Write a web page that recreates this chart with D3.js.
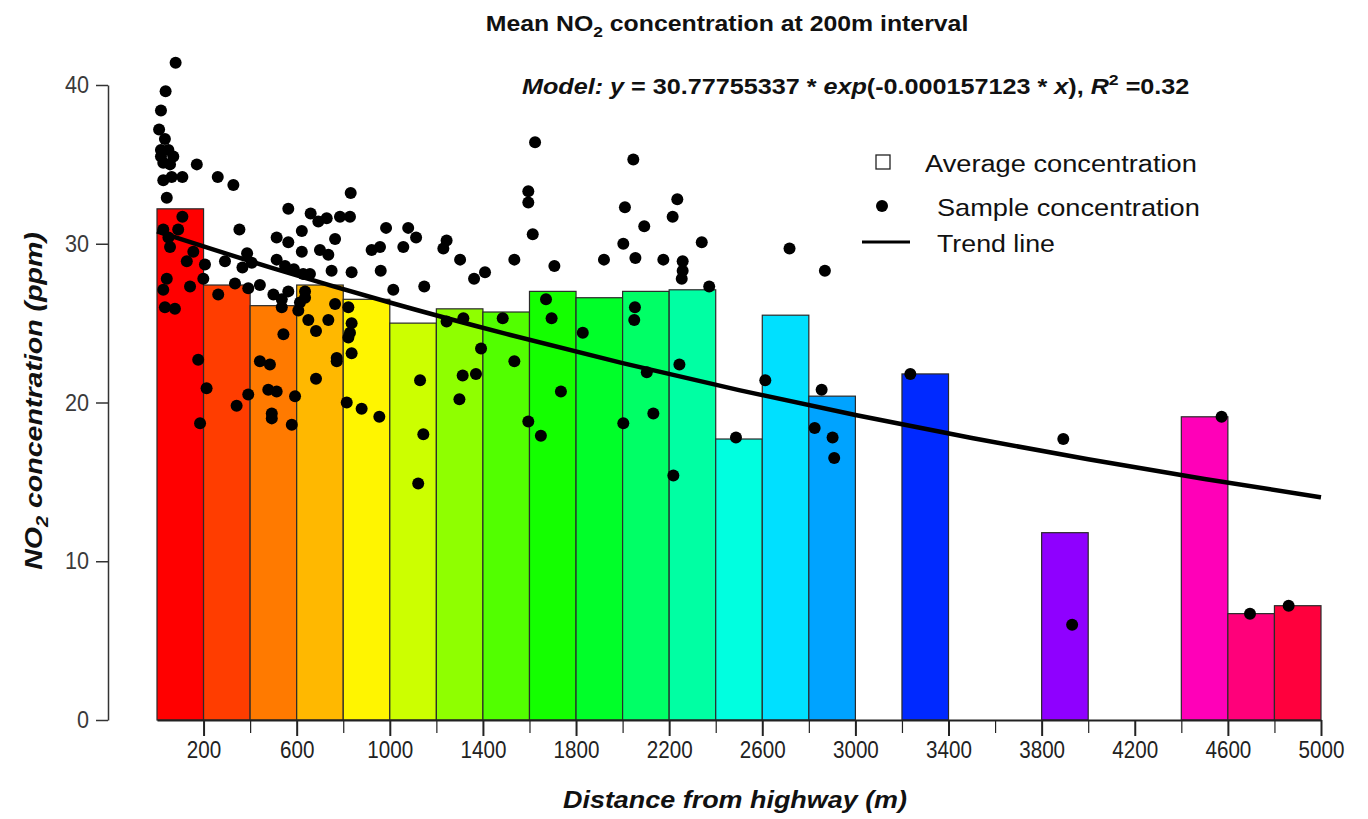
<!DOCTYPE html>
<html>
<head>
<meta charset="utf-8">
<script src="https://cdn.jsdelivr.net/npm/d3@7"></script>
<style>
  html, body { margin: 0; padding: 0; background: #fff; }
  svg { display: block; }
</style>
</head>
<body>
<script>
// ---- data ----
// 200 m bins: start distance and mean NO2 (null = no samples in that bin)
const binStart = [0, 200, 400, 600, 800, 1000, 1200, 1400, 1600, 1800, 2000, 2200, 2400,
  2600, 2800, 3000, 3200, 3400, 3600, 3800, 4000, 4200, 4400, 4600, 4800];
const binMean = [32.2, 27.4, 26.1, 27.4, 26.5, 25.0, 25.9, 25.7, 27.0, 26.6, 27.0, 27.1, 17.7,
  25.5, 20.4, null, 21.8, null, null, 11.8, null, null, 19.1, 6.7, 7.2];

// individual samples
const sampleDist = [80, 37, 17, 9, 34, 17, 49, 17, 70, 27, 56, 171, 27, 63, 109, 261, 328, 42, 109, 27,
  91, 49, 56, 354, 156, 128, 206, 292, 42, 199, 27, 142, 263, 34, 77, 177, 213, 342, 185, 387,
  367, 407, 335, 392, 442, 564, 514, 564, 622, 622, 514, 550, 588, 500, 536, 564, 536, 607, 543, 442,
  485, 478, 514, 392, 593, 493, 493, 579, 832, 660, 693, 729, 786, 829, 765, 984, 1079, 1113, 1244, 1230,
  700, 736, 922, 958, 1058, 628, 657, 750, 836, 961, 1015, 1148, 636, 636, 614, 765, 822, 650, 736, 683,
  836, 829, 822, 1244, 772, 772, 836, 683, 1130, 815, 879, 955, 1144, 1624, 2046, 1595, 1595, 2010, 2235, 2215,
  2093, 1614, 1302, 1362, 1409, 1535, 1707, 1920, 2003, 2055, 2175, 2340, 2258, 2258, 2254, 2372, 1671, 1695, 1316, 1485,
  1392, 1829, 2053, 2050, 1535, 1313, 1370, 1299, 2244, 2104, 1735, 1595, 1649, 2003, 2132, 1122, 2218, 2487, 2717, 2869,
  2613, 2855, 2825, 2902, 2909, 3236, 3893, 3931, 4573, 4695, 4861];
const sampleConc = [41.4, 39.6, 38.4, 37.2, 36.6, 35.9, 35.9, 35.5, 35.5, 35.1, 35.0, 35.0, 34.0, 34.2, 34.2, 34.2, 33.7, 32.9, 31.7, 30.9,
  30.9, 30.4, 29.8, 30.9, 29.5, 28.9, 28.7, 28.9, 27.8, 27.8, 27.1, 27.3, 26.8, 26.0, 25.9, 22.7, 20.9, 19.8, 18.7, 29.4,
  28.5, 28.8, 27.5, 27.2, 27.4, 32.2, 30.4, 30.1, 30.8, 29.5, 29.0, 28.6, 28.4, 26.8, 26.5, 27.0, 26.0, 25.8, 24.3, 22.6,
  22.4, 20.8, 20.7, 20.5, 20.4, 19.3, 19.0, 18.6, 33.2, 31.9, 31.4, 31.6, 31.7, 31.7, 30.3, 31.0, 31.0, 30.4, 30.2, 29.7,
  29.6, 29.3, 29.6, 29.8, 29.8, 28.1, 28.1, 28.3, 28.2, 28.3, 27.1, 27.3, 27.0, 26.6, 26.3, 26.2, 26.0, 25.2, 25.2, 24.5,
  25.0, 24.4, 24.1, 25.1, 22.8, 22.6, 23.1, 21.5, 21.4, 20.0, 19.6, 19.1, 18.0, 36.4, 35.3, 33.3, 32.6, 32.3, 32.8, 31.7,
  31.1, 30.6, 29.0, 27.8, 28.2, 29.0, 28.6, 29.0, 30.0, 29.1, 29.0, 30.1, 28.9, 28.3, 27.8, 27.3, 26.5, 25.3, 25.3, 25.3,
  23.4, 24.4, 26.0, 25.2, 22.6, 21.7, 21.8, 20.2, 22.4, 21.9, 20.7, 18.8, 17.9, 18.7, 19.3, 14.9, 15.4, 17.8, 29.7, 28.3,
  21.4, 20.8, 18.4, 17.8, 16.5, 21.8, 17.7, 6.0, 19.1, 6.7, 7.2];

// trend line y = 30.78 * exp(-0.000157 x), read at 500 m steps
const trendDist = [0, 500, 1000, 1500, 2000, 2500, 3000, 3500, 4000, 4500, 5000];
const trendConc = [30.78, 28.45, 26.30, 24.32, 22.48, 20.78, 19.21, 17.76, 16.42, 15.18, 14.03];

const yTicks = [0, 10, 20, 30, 40];
const xTicks = [200, 400, 600, 800, 1000, 1200, 1400, 1600, 1800, 2000, 2200, 2400, 2600,
  2800, 3000, 3200, 3400, 3600, 3800, 4000, 4200, 4400, 4600, 4800, 5000];
const xLabelled = [200, 600, 1000, 1400, 1800, 2200, 2600, 3000, 3400, 3800, 4200, 4600, 5000];

// ---- layout ----
const width = 1368, height = 819;
const font = "'Liberation Sans', Arial, Helvetica, sans-serif";

const x = d3.scaleLinear().domain([0, 5000]).range([157, 1321]);
const y = d3.scaleLinear().domain([0, 40]).range([720, 85]);

const svg = d3.select("body").append("svg")
  .attr("width", width)
  .attr("height", height)
  .style("font-family", font);

svg.append("rect").attr("width", width).attr("height", height).attr("fill", "#fff");

// bars (rainbow colouring, one hue step per bin)
const bins = binStart.map((s, i) => ({ start: s, mean: binMean[i], color: d3.hsl(i * 360 / binStart.length, 1, 0.5).formatHex() }))
  .filter(d => d.mean !== null);

svg.append("g")
  .selectAll("rect")
  .data(bins)
  .join("rect")
  .attr("x", d => x(d.start))
  .attr("y", d => y(d.mean))
  .attr("width", d => x(d.start + 200) - x(d.start))
  .attr("height", d => y(0) - y(d.mean))
  .attr("fill", d => d.color)
  .attr("stroke", "#2a2a2a")
  .attr("stroke-width", 1.2);

// trend line
const trend = trendDist.map((d, i) => [d, trendConc[i]]);
svg.append("path")
  .datum(trend)
  .attr("fill", "none")
  .attr("stroke", "#000")
  .attr("stroke-width", 4.5)
  .attr("d", d3.line().x(d => x(d[0])).y(d => y(d[1])).curve(d3.curveMonotoneX));

// samples
svg.append("g")
  .selectAll("circle")
  .data(sampleDist.map((d, i) => [d, sampleConc[i]]))
  .join("circle")
  .attr("cx", d => x(d[0]))
  .attr("cy", d => y(d[1]))
  .attr("r", 6)
  .attr("fill", "#000");

// y axis (offset to the left of the bars)
const yAxis = svg.append("g")
  .attr("transform", "translate(108,0)")
  .call(d3.axisLeft(y).tickValues(yTicks).tickSize(12).tickSizeOuter(0).tickPadding(7));
yAxis.select(".domain").attr("stroke", "#333").attr("stroke-width", 1.5);
yAxis.selectAll(".tick line").attr("stroke", "#333").attr("stroke-width", 1.5);
yAxis.selectAll(".tick text")
  .style("font-family", font).style("font-size", "24px").attr("fill", "#3a3a3a")
  .attr("x", -19 / 0.9)
  .attr("transform", "scale(0.9,1)");

// x axis
const xAxis = svg.append("g")
  .attr("transform", `translate(0,${y(0)})`)
  .call(d3.axisBottom(x).tickValues(xTicks).tickSize(16).tickSizeOuter(0).tickPadding(5)
    .tickFormat(d => xLabelled.includes(d) ? d : ""));
xAxis.select(".domain").attr("stroke", "#222").attr("stroke-width", 2.2);
xAxis.selectAll(".tick line")
  .attr("stroke", "#222")
  .attr("stroke-width", d => xLabelled.includes(d) ? 2 : 1.2)
  .attr("y2", d => xLabelled.includes(d) ? 16 : 13);
xAxis.selectAll(".tick text")
  .style("font-family", font).style("font-size", "24px").attr("fill", "#222")
  .attr("transform", "scale(0.86,1)");

// ---- text helper: squeeze text horizontally to the width it has in the figure ----
function fitText(gx, gy, anchor, targetW, weight, size, parts, rotate) {
  const g = svg.append("g");
  const t = g.append("text")
    .attr("text-anchor", anchor)
    .style("font-family", font)
    .style("font-size", size + "px")
    .style("font-weight", weight)
    .attr("fill", "#111");
  parts.forEach(p => {
    const ts = t.append("tspan").text(p.t);
    if (p.i) ts.style("font-style", "italic");
    if (p.sub) ts.style("font-size", (size * 0.7) + "px").attr("dy", p.sub);
    if (p.back) ts.attr("dy", p.back);
  });
  const bw = t.node().getBBox().width;
  const sx = targetW / bw;
  g.attr("transform", `translate(${gx},${gy})` + (rotate ? ` rotate(${rotate})` : "") + ` scale(${sx},1)`);
  return g;
}

// title
fitText(727, 31, "middle", 483, "bold", 22, [
  { t: "Mean NO" }, { t: "2", sub: 6 }, { t: " concentration at 200m interval", back: -6 }
]);

// model equation
fitText(522, 94, "start", 668, "bold", 22, [
  { t: "Model:", i: true }, { t: " " }, { t: "y", i: true }, { t: " = 30.77755337 * " },
  { t: "exp", i: true }, { t: "(-0.000157123 * " }, { t: "x", i: true }, { t: "), " },
  { t: "R", i: true }, { t: "2", sub: -9 }, { t: " =0.32", back: 9 }
]);

// axis titles
fitText(735, 808, "middle", 344, "bold", 24, [{ t: "Distance from highway (m)", i: true }]);
fitText(42, 401, "middle", 338, "bold", 24, [
  { t: "NO", i: true }, { t: "2", i: true, sub: 6 }, { t: " concentration (ppm)", i: true, back: -6 }
], -90);

// legend
svg.append("rect")
  .attr("x", 876).attr("y", 155).attr("width", 14).attr("height", 14)
  .attr("fill", "#fff").attr("stroke", "#222").attr("stroke-width", 1.3);
svg.append("circle").attr("cx", 882).attr("cy", 206).attr("r", 6).attr("fill", "#000");
svg.append("line")
  .attr("x1", 862).attr("x2", 910).attr("y1", 242).attr("y2", 242)
  .attr("stroke", "#000").attr("stroke-width", 3);

fitText(925, 172, "start", 272, "normal", 24, [{ t: "Average concentration" }]);
fitText(937, 216, "start", 263, "normal", 24, [{ t: "Sample concentration" }]);
fitText(937, 252, "start", 118, "normal", 24, [{ t: "Trend line" }]);
</script>
</body>
</html>
